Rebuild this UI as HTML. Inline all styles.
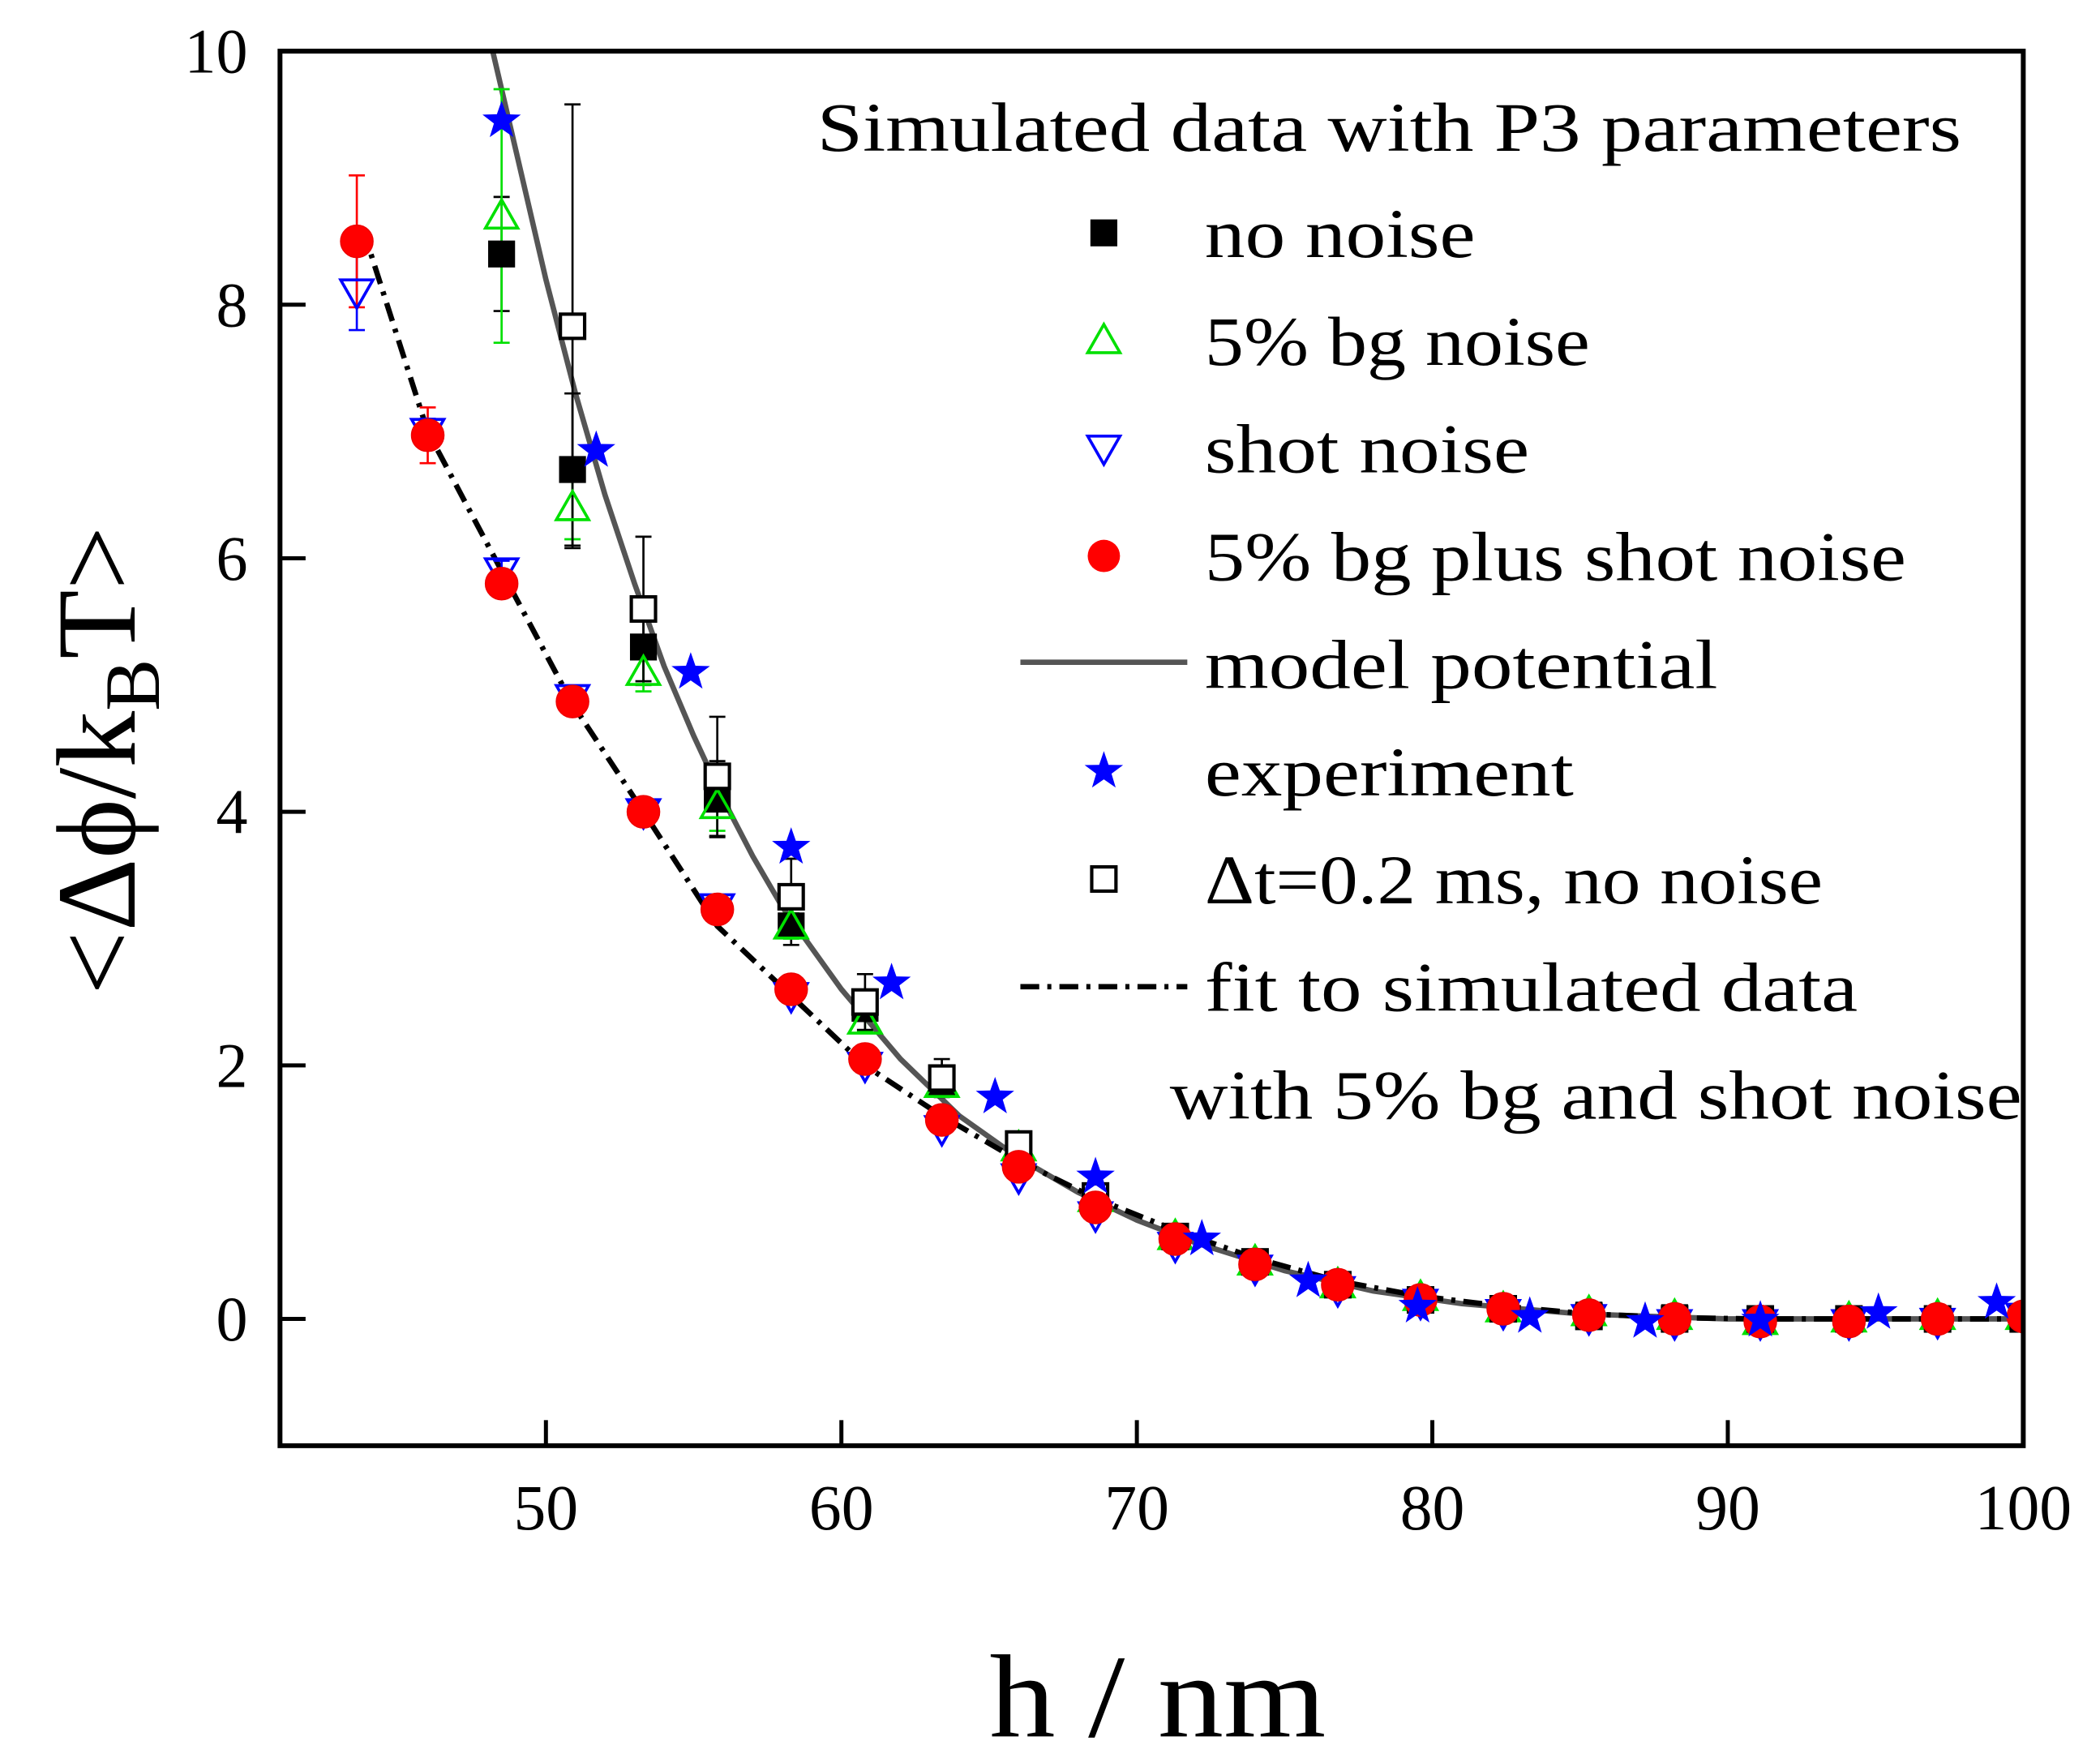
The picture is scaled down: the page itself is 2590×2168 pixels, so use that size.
<!DOCTYPE html>
<html><head><meta charset="utf-8"><style>html,body{margin:0;padding:0;background:#fff}svg{display:block}</style></head>
<body>
<svg id="chart" width="2590" height="2168" viewBox="0 0 1560 1306" preserveAspectRatio="none" xmlns="http://www.w3.org/2000/svg" font-family="'Liberation Serif', serif">
<g id="layer"></g>
</svg>
<script>
const xTicks=[50,60,70,80,90,100];
const yTicks=[0,2,4,6,8,10];
const hNoNoise=[48.5,50.9,53.3,55.8,58.3,60.8,63.4,66,68.6,71.3,74,76.8,79.6,82.4,85.3,88.2,91.1,94.1,97.1,100];
const yNoNoise=[8.4,6.7,5.3,4.1,3.1,2.45,1.85,1.38,0.97,0.65,0.45,0.27,0.15,0.08,0.03,0.01,0,0,0,0];
const eNoNoise=[0.45,0.6,0.3,0.3,0.15,0.1,0.08,0.05,0.04,0.03,0.02,0.02,0.02,0.02,0.02,0.02,0.02,0.02,0.02,0.02];
const yBg=[8.7,6.4,5.1,4.05,3.1,2.35,1.85,1.35,0.95,0.65,0.45,0.27,0.17,0.08,0.05,0.02,-0.02,0,0.02,0.02];
const eBg=[1.0,0.25,0.15,0.2,0.1,0.08,0.06,0.05,0.04,0.03,0.02,0.02,0.02,0.02,0.02,0.02,0.02,0.02,0.02,0.02];
const hShot=[43.6,46,48.5,50.9,53.3,55.8,58.3,60.8,63.4,66,68.6,71.3,74,76.8,79.6,82.4,85.3,88.2,91.1,94.1,97.1,100];
const yShot=[8.1,7.0,5.9,4.9,4.0,3.25,2.55,2.0,1.5,1.12,0.82,0.58,0.4,0.23,0.13,0.05,0.01,-0.03,-0.03,-0.03,-0.02,0.02];
const eShot=[0.3,0.1,0.08,0.05,0.04,0.03,0.03,0.03,0.03,0.02,0.02,0.02,0.02,0.02,0.02,0.02,0.02,0.02,0.02,0.02,0.02,0.02];
const yBgShot=[8.5,6.97,5.8,4.87,4.0,3.23,2.6,2.05,1.57,1.2,0.88,0.63,0.43,0.27,0.15,0.08,0.03,0,-0.02,-0.02,0,0.02];
const eBgShot=[0.52,0.22,0.1,0.06,0.05,0.04,0.03,0.03,0.03,0.02,0.02,0.02,0.02,0.02,0.02,0.02,0.02,0.02,0.02,0.02,0.02,0.02];
const hExp=[48.5,51.7,54.9,58.3,61.7,65.2,68.6,72.2,75.8,79.5,83.3,87.2,91.1,95.1,99.1];
const yExp=[9.45,6.85,5.1,3.72,2.65,1.75,1.12,0.63,0.3,0.1,0.02,-0.02,-0.01,0.05,0.13];
const hDt=[50.9,53.3,55.8,58.3,60.8,63.4,66,68.6,71.3,74,76.8,79.6,82.4,85.3,88.2,91.1,94.1,97.1,100];
const yDt=[7.83,5.6,4.28,3.33,2.5,1.9,1.38,0.97,0.65,0.45,0.27,0.15,0.08,0.02,0,0,0,0,0];
const eDt=[1.75,0.57,0.47,0.3,0.22,0.15,0.08,0.05,0.04,0.03,0.02,0.02,0.02,0.02,0.02,0.02,0.02,0.02,0.02];
const hModel=[48.2,49,50,51,52,53,54,55,56,57,58,60,62,64,66,68,70,72,75,78,81,85,90,100];
const yModel=[10,9.2,8.2,7.3,6.5,5.8,5.15,4.6,4.1,3.65,3.25,2.6,2.05,1.6,1.27,1.0,0.78,0.6,0.38,0.22,0.12,0.04,0.0,0.0];
const hFit=[43.8,46,48.5,50.9,53.3,55.8,58.3,60.8,63.4,66,68.6,71.3,74,76.8,79.6,82.4,85.3,88.2,91,100];
const yFit=[8.6,7.0,5.9,4.85,4.0,3.1,2.55,2.0,1.6,1.25,0.95,0.7,0.48,0.3,0.18,0.1,0.04,0.01,0,0];

const L=208,R=1503,T=38,B=1074,X0=41,X1=100,Y0=-1,Y1=10;
const sx=v=>L+(v-X0)/(X1-X0)*(R-L);
const sy=v=>B-(v-Y0)/(Y1-Y0)*(B-T);
const NS='http://www.w3.org/2000/svg';
const layer=document.getElementById('layer');
function mk(tag,attrs,parent){const e=document.createElementNS(NS,tag);for(const k in attrs)e.setAttribute(k,attrs[k]);(parent||layer).appendChild(e);return e;}
const clip=mk('clipPath',{id:'pc'});mk('rect',{x:L,y:T,width:R-L,height:B-T},clip);
const plot=mk('g',{'clip-path':'url(#pc)'});



function linePath(xs,ys){return xs.map((x,i)=>(i?'L':'M')+sx(x).toFixed(1)+' '+sy(ys[i]).toFixed(1)).join(' ');}
const model=mk('path',{d:linePath(hModel,yModel),fill:'none',stroke:'#555',"stroke-width":4},plot);


const fit=mk('path',{d:linePath(hFit,yFit),fill:'none',stroke:'#000',"stroke-width":4,"stroke-dasharray":"14 6 3 6"},plot);



function errbars(xs,ys,es,col,name){xs.forEach((x,i)=>{const cx=sx(x),a=sy(ys[i]+es[i]),b=sy(ys[i]-es[i]);
 const g=mk('path',{d:`M${cx} ${a}V${b}M${cx-6} ${a}H${cx+6}M${cx-6} ${b}H${cx+6}`,stroke:col,"stroke-width":1.6,fill:'none'},plot);
 
 });}
function marker(type,cx,cy,parent){
 let e;
 if(type==='sq') e=mk('rect',{x:cx-10,y:cy-10,width:20,height:20,fill:'#000'},parent);
 else if(type==='osq') e=mk('rect',{x:cx-9,y:cy-9,width:18,height:18,fill:'#fff',stroke:'#000','stroke-width':2.5},parent);
 else if(type==='tri') e=mk('path',{d:`M${cx} ${cy-12}L${cx+12} ${cy+9}L${cx-12} ${cy+9}Z`,fill:'none',stroke:'#00e000','stroke-width':2.2},parent);
 else if(type==='dtri') e=mk('path',{d:`M${cx} ${cy+12}L${cx+12} ${cy-9}L${cx-12} ${cy-9}Z`,fill:'none',stroke:'#0000ff','stroke-width':2.2},parent);
 else if(type==='circ') e=mk('circle',{cx:cx,cy:cy,r:12,fill:'#ff0000',stroke:'#e00','stroke-width':1},parent);
 else if(type==='star'){let p='';for(let k=0;k<10;k++){const r=k%2?6:15,a=-Math.PI/2+k*Math.PI/5;p+=(k?'L':'M')+(cx+r*Math.cos(a)).toFixed(1)+' '+(cy+r*Math.sin(a)).toFixed(1);}e=mk('path',{d:p+'Z',fill:'#0000ff'},parent);}
 return e;}
function series(xs,ys,type,name){xs.forEach((x,i)=>{const e=marker(type,sx(x),sy(ys[i]),plot);
 
 });}
errbars(hNoNoise,yNoNoise,eNoNoise,'#000','no-noise');
errbars(hNoNoise,yBg,eBg,'#00e000','bg-noise');
errbars(hShot,yShot,eShot,'#0000ff','shot-noise');
errbars(hShot,yBgShot,eBgShot,'#ff0000','bg-shot-noise');
errbars(hDt,yDt,eDt,'#000','dt-0-2ms');
series(hNoNoise,yNoNoise,'sq','no-noise');
series(hNoNoise,yBg,'tri','bg-noise');
series(hShot,yShot,'dtri','shot-noise');
series(hDt,yDt,'osq','dt-0-2ms');
series(hShot,yBgShot,'circ','bg-shot-noise');
series(hExp,yExp,'star','experiment');

const frame=mk('rect',{x:L,y:T,width:R-L,height:B-T,fill:'none',stroke:'#000','stroke-width':3.6});


xTicks.forEach(v=>{const x=sx(v);
 const t=mk('path',{d:`M${x} ${B}V${B-19}`,stroke:'#000','stroke-width':3});
 
 
 const l=mk('text',{x:x,y:B+62,'font-size':48,'text-anchor':'middle'});l.textContent=v;
 
 });
yTicks.forEach(v=>{const y=sy(v);
 const t=mk('path',{d:`M${L} ${y}H${L+19}`,stroke:'#000','stroke-width':3});
 
 
 const l=mk('text',{x:L-24,y:y+16,'font-size':47,'text-anchor':'end'});l.textContent=v;
 
 });
</script>
<svg style="position:absolute;left:0;top:0" width="2590" height="2168" viewBox="0 0 1560 1306" preserveAspectRatio="none" font-family="'Liberation Serif', serif">
<text x="735" y="1290" font-size="88" textLength="250" lengthAdjust="spacingAndGlyphs">h / nm</text>
<text transform="translate(100,565) rotate(-90)" font-size="84" text-anchor="middle">&lt;Δϕ/k<tspan font-size="58" dy="18">B</tspan><tspan dy="-18">T&gt;</tspan></text>
<g font-size="52">
<text x="607" y="112" textLength="850" lengthAdjust="spacingAndGlyphs">Simulated data with P3 parameters</text>
<rect x="810" y="163" width="20" height="20" fill="#000"/>
<text x="895" y="191" textLength="201" lengthAdjust="spacingAndGlyphs">no noise</text>
<path d="M820 241L832 262L808 262Z" fill="none" stroke="#00e000" stroke-width="2.2"/>
<text x="895" y="271" textLength="286" lengthAdjust="spacingAndGlyphs">5% bg noise</text>
<path d="M820 345L832 324L808 324Z" fill="none" stroke="#0000ff" stroke-width="2.2"/>
<text x="895" y="351" textLength="241" lengthAdjust="spacingAndGlyphs">shot noise</text>
<circle cx="820" cy="413" r="12" fill="#ff0000"/>
<text x="895" y="431" textLength="521" lengthAdjust="spacingAndGlyphs">5% bg plus shot noise</text>
<path d="M758 492H882" stroke="#555" stroke-width="4"/>
<text x="895" y="511" textLength="381" lengthAdjust="spacingAndGlyphs">model potential</text>
<path d="M820 558L823.5 568.2L834.3 568.4L825.7 574.8L828.8 585.1L820 579L811.2 585.1L814.3 574.8L805.7 568.4L816.5 568.2Z" fill="#0000ff"/>
<text x="895" y="591" textLength="274" lengthAdjust="spacingAndGlyphs">experiment</text>
<rect x="811" y="644" width="18" height="18" fill="#fff" stroke="#000" stroke-width="2.5"/>
<text x="895" y="671" textLength="459" lengthAdjust="spacingAndGlyphs">Δt=0.2 ms, no noise</text>
<path d="M758 733H882" stroke="#000" stroke-width="4" stroke-dasharray="14 6 3 6"/>
<text x="895" y="751" textLength="485" lengthAdjust="spacingAndGlyphs">fit to simulated data</text>
<text x="869" y="831" textLength="633" lengthAdjust="spacingAndGlyphs">with 5% bg and shot noise</text>
</g>
</svg>
</body></html>
